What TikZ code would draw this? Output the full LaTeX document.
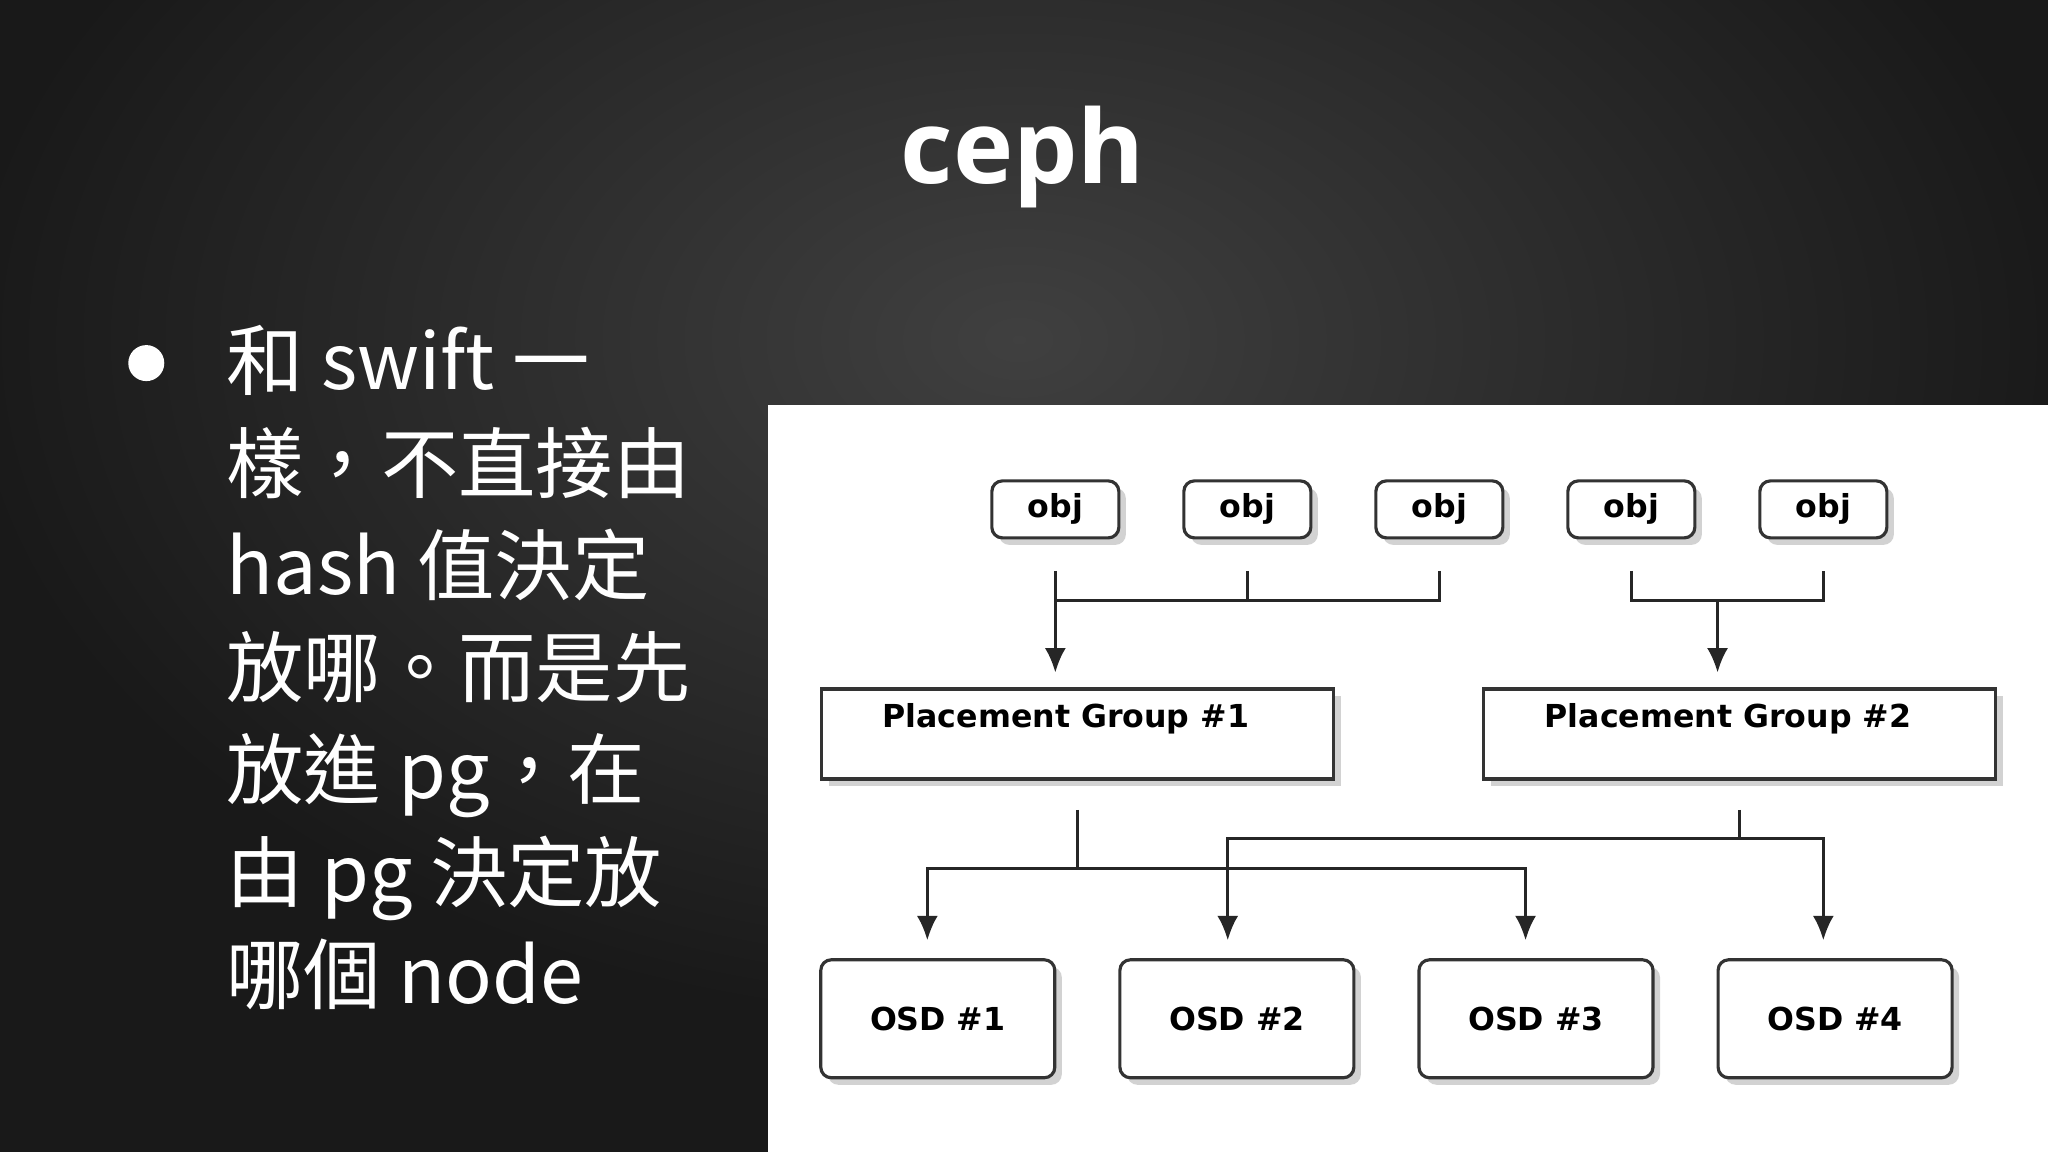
\documentclass[tikz,border=0pt]{standalone}
\usepackage{fontspec}
\setmainfont{Open Sans}
\newfontfamily\cjk{Noto Sans CJK TC}
\newfontfamily\dv{DejaVu Sans}
\usetikzlibrary{arrows.meta, shadows}
\tikzset{
	box/.style = {
		draw = black!80,
		line width = 0.9pt,
		fill = white,
		drop shadow = {shadow xshift = 2pt, shadow yshift = -2pt, fill = black!35},
		font = \dv\bfseries\fontsize{9}{11}\selectfont,
		inner sep = 0pt,
	},
	objbox/.style = {box, rounded corners = 3pt, minimum width = 1.27cm, minimum height = 0.57cm},
	pgbox/.style = {box, minimum width = 5.12cm, minimum height = 0.9cm},
	osdbox/.style = {box, rounded corners = 3pt, minimum width = 2.34cm, minimum height = 1.18cm},
	link/.style = {line width = 0.9pt, black!85},
	arrow/.style = {link, -{Latex[length = 7pt, width = 6pt]}},
	bodytext/.style = {anchor = base west, text = white, inner sep = 0pt,
		font = \cjk\fontsize{22}{26}\selectfont},
}
\begin{document}
\begin{tikzpicture}[x = 0.01306cm, y = -0.01306cm]
	\useasboundingbox (0, 0) rectangle (1568, 882);
	% background
	\fill[black!90] (0, 0) rectangle (1568, 882);
	\begin{scope}
		\clip (0, 0) rectangle (1568, 882);
		\shade[inner color = black!75, outer color = black!90] (780, 260) ellipse (800 and 520);
	\end{scope}
	\fill[white] (588, 310) rectangle (1568, 882);
	% title
	\node[text = white, font = \bfseries\fontsize{29}{34}\selectfont] (title) at (783, 120) {ceph};
	% bullet text
	\node[circle, fill = white, minimum size = 0.36cm, inner sep = 0pt] (bullet) at (112, 278) {};
	\node[bodytext] (l1) at (173, 298) {和 swift 一};
	\node[bodytext] (l2) at (173, 377) {樣，不直接由};
	\node[bodytext] (l3) at (173, 455) {hash 值決定};
	\node[bodytext] (l4) at (173, 533) {放哪。而是先};
	\node[bodytext] (l5) at (173, 611) {放進 pg，在};
	\node[bodytext] (l6) at (173, 690) {由 pg 決定放};
	\node[bodytext] (l7) at (173, 768) {哪個 node};
	% objects
	\foreach \i/\x in {1/808, 2/955, 3/1102, 4/1249, 5/1396}{
		\node[objbox] (obj\i) at (\x, 390) {obj};
		\coordinate (s\i) at (\x, 437);
	}
	% placement groups
	\node[pgbox] (pg1) at (825, 562) {};
	\node[pgbox] (pg2) at (1332, 562) {};
	\node[font = \dv\bfseries\fontsize{9}{11}\selectfont] (pg1label) at (816, 550) {Placement Group \#1};
	\node[font = \dv\bfseries\fontsize{9}{11}\selectfont] (pg2label) at (1323, 550) {Placement Group \#2};
	% osds
	\foreach \i/\x in {1/718, 2/947, 3/1176, 4/1405}{
		\node[osdbox] (osd\i) at (\x, 780) {OSD \#\i};
	}
	% objects -> groups
	\draw[link] (s2) |- (808, 460) (s3) |- (808, 460);
	\draw[arrow] (s1) -- (808, 515);
	\draw[link] (s4) |- (1396, 460) -- (s5);
	\draw[arrow] (1315, 460) -- (1315, 515);
	% groups -> osds
	\draw[link] (825, 620) -- (825, 665);
	\draw[arrow] (825, 665) -| (710, 720);
	\draw[arrow] (825, 665) -| (1168, 720);
	\draw[link] (1332, 620) -- (1332, 642);
	\draw[arrow] (1332, 642) -| (940, 720);
	\draw[arrow] (1332, 642) -| (1396, 720);
\end{tikzpicture}
\end{document}
